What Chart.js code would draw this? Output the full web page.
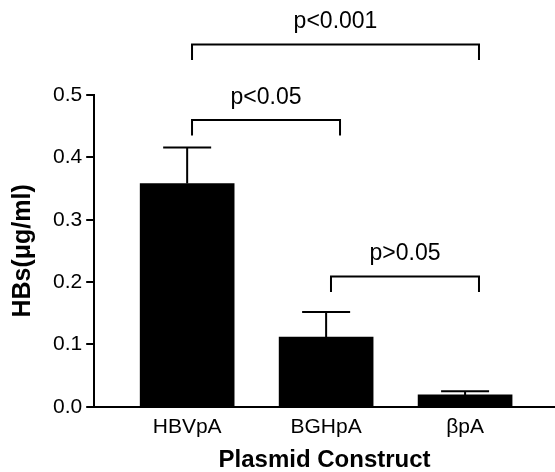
<!DOCTYPE html>
<html lang="en">
<head>
    <meta charset="UTF-8">
    <title>HBs expression</title>
    <script src="https://cdn.jsdelivr.net/npm/chart.js"></script>
    <style>
        html, body { margin: 0; padding: 0; background: #fff; }
        .chart-container { position: relative; width: 555px; height: 472px; }
    </style>
</head>
<body>
    <div class="chart-container">
        <canvas id="hbsChart"></canvas>
    </div>
    <script>
        // data
        const constructs = ['HBVpA', 'BGHpA', '\u03B2pA'];
        const hbsMean = [0.358, 0.112, 0.019];
        const hbsSem = [0.058, 0.040, 0.006];
        const yTicks = [0.0, 0.1, 0.2, 0.3, 0.4, 0.5];

        // significance brackets: from bar, to bar, height (ug/ml), label
        const bracketFrom = [0, 0, 1];
        const bracketTo = [2, 1, 2];
        const bracketLevel = [0.581, 0.460, 0.209];
        const bracketText = ['p<0.001', 'p<0.05', 'p>0.05'];

        const fontFamily = '"Liberation Sans", Arial, sans-serif';

        const errorBars = {
            id: 'errorBars',
            afterDatasetsDraw(chart) {
                const x = chart.scales.x, y = chart.scales.y;
                const ctx = chart.ctx;
                ctx.save();
                ctx.strokeStyle = '#000';
                ctx.lineWidth = 2;
                hbsMean.forEach((m, i) => {
                    const px = x.getPixelForValue(i);
                    const top = y.getPixelForValue(m + hbsSem[i]);
                    const base = y.getPixelForValue(m);
                    ctx.beginPath();
                    ctx.moveTo(px, base);
                    ctx.lineTo(px, top);
                    ctx.moveTo(px - 24, top);
                    ctx.lineTo(px + 24, top);
                    ctx.stroke();
                });
                ctx.restore();
            }
        };

        const brackets = {
            id: 'brackets',
            afterDraw(chart) {
                const x = chart.scales.x, y = chart.scales.y;
                const ctx = chart.ctx;
                ctx.save();
                ctx.strokeStyle = '#000';
                ctx.lineWidth = 2;
                ctx.fillStyle = '#000';
                ctx.font = '23px ' + fontFamily;
                ctx.textAlign = 'center';
                ctx.textBaseline = 'alphabetic';
                bracketText.forEach((txt, i) => {
                    const x1 = x.getPixelForValue(bracketFrom[i] + 0.035);
                    const x2 = x.getPixelForValue(bracketTo[i] + 0.1);
                    const py = y.getPixelForValue(bracketLevel[i]);
                    const leg = y.getPixelForValue(bracketLevel[i] - 0.025);
                    ctx.beginPath();
                    ctx.moveTo(x1, leg);
                    ctx.lineTo(x1, py);
                    ctx.lineTo(x2, py);
                    ctx.lineTo(x2, leg);
                    ctx.stroke();
                    ctx.fillText(txt, (x1 + x2) / 2, py - 16);
                });
                ctx.restore();
            }
        };

        const ctx = document.getElementById('hbsChart').getContext('2d');
        new Chart(ctx, {
            type: 'bar',
            data: {
                datasets: [{
                    data: hbsMean.map((v, i) => ({ x: i, y: v })),
                    backgroundColor: '#000',
                    borderWidth: 0,
                    barThickness: 94
                }]
            },
            options: {
                responsive: true,
                maintainAspectRatio: false,
                animation: false,
                layout: { padding: { top: 95, right: 0, bottom: 0, left: 0 } },
                plugins: {
                    legend: { display: false },
                    tooltip: { enabled: false }
                },
                scales: {
                    x: {
                        type: 'linear',
                        min: -0.669,
                        max: 2.647,
                        offset: false,
                        afterBuildTicks: (scale) => {
                            scale.ticks = constructs.map((c, i) => ({ value: i }));
                        },
                        ticks: {
                            color: '#000',
                            padding: 8,
                            font: { family: fontFamily, size: 21 },
                            callback: (v) => constructs[v]
                        },
                        grid: { display: false, drawTicks: false },
                        border: { display: true, color: '#000', width: 2 },
                        title: {
                            display: true,
                            text: 'Plasmid Construct',
                            color: '#000',
                            font: { family: fontFamily, size: 24, weight: 'bold', lineHeight: 1 },
                            padding: { top: 0, bottom: 0 }
                        }
                    },
                    y: {
                        min: 0,
                        max: 0.5,
                        afterBuildTicks: (scale) => {
                            scale.ticks = yTicks.map(v => ({ value: v }));
                        },
                        ticks: {
                            color: '#000',
                            padding: 4,
                            font: { family: fontFamily, size: 21 },
                            callback: (v) => v.toFixed(1)
                        },
                        grid: {
                            drawOnChartArea: false,
                            drawTicks: true,
                            tickLength: 8,
                            color: '#000',
                            lineWidth: 2
                        },
                        border: { display: true, color: '#000', width: 2 },
                        title: {
                            display: true,
                            text: 'HBs(\u03BCg/ml)',
                            color: '#000',
                            font: { family: fontFamily, size: 25, weight: 'bold' },
                            padding: { top: 8, bottom: 11 }
                        }
                    }
                }
            },
            plugins: [errorBars, brackets]
        });
    </script>
</body>
</html>
